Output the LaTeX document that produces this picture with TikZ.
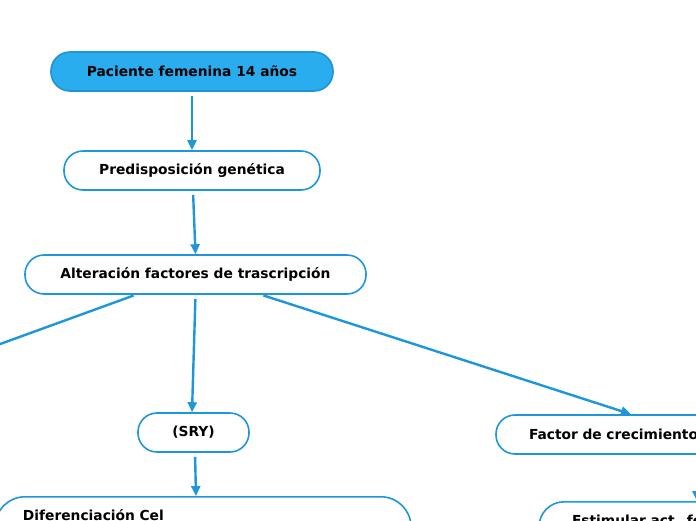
\documentclass[tikz,border=0pt]{standalone}
\usepackage{fontspec}
\setmainfont{DejaVu Sans}
\usetikzlibrary{arrows.meta}
\definecolor{lineblue}{HTML}{1E96DC}
\definecolor{fillblue}{HTML}{29ADEF}
\definecolor{boxedge}{HTML}{1F93D6}
\begin{document}
\begin{tikzpicture}[x=1pt,y=-1pt,
  box/.style={draw=lineblue, line width=1.6pt, rounded corners=19pt, minimum height=39pt,
    inner sep=0pt, font=\fontsize{13.8}{16}\selectfont\bfseries, text=black},
  link/.style={draw=lineblue, line width=2.4pt},
  conn/.style={link, -{Triangle[length=10pt,width=9pt]}}]
\clip (0,0) rectangle (696,520);
\fill[white] (0,0) rectangle (696,520);
\node[box, fill=fillblue, draw=boxedge, minimum width=282] (pac) at (192,71.5) {Paciente femenina 14 años};
\node[box, minimum width=256] (pre) at (192,170.5) {Predisposición genética};
\node[box, minimum width=341] (alt) at (195.5,274.5) {Alteración factores de trascripción};
\node[box, minimum width=111] (sry) at (193.5,432.5) {(SRY)};
\node[box, minimum width=402, text width=336, align=left] (fac) at (697,434.5) {Factor de crecimiento};
\node[box, rounded corners=30pt, anchor=north, minimum width=416, text width=360, align=left,
  inner ysep=13pt, text height=10.5pt, text depth=40pt] (dif) at (203,496) {Diferenciación Cel};
\node[box, rounded corners=25pt, anchor=north, minimum width=316, text width=250, align=left,
  inner ysep=13pt, text height=10.5pt, text depth=40pt] (est) at (697,501) {Estimular act. fo};
\coordinate (offl) at (-40,358.6);
\draw[conn, shorten <=4pt] (pac.south) -- (pre.north);
\draw[conn, shorten <=4pt] ([xshift=1pt]pre.south) -- (alt.north);
\draw[link, shorten <=2pt] ([xshift=-60pt]alt.south) -- (offl);
\draw[conn, shorten <=4pt] (alt.south) -- ([xshift=-1.5pt]sry.north);
\draw[conn, shorten <=2pt] ([xshift=66pt]alt.south) -- ([xshift=-66pt]fac.north);
\draw[conn, shorten <=4pt] ([xshift=1.5pt]sry.south) -- ([xshift=-7pt]dif.north);
\draw[conn, shorten <=2pt] (fac.south) -- (est.north);
\end{tikzpicture}
\end{document}
